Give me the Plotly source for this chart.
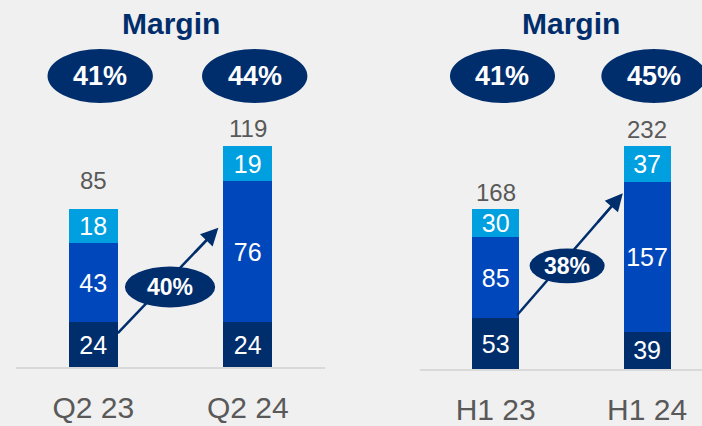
import plotly.graph_objects as go

# ---- data ----
left_categories = ["Q2 23", "Q2 24"]
left_bottom = [24, 24]
left_middle = [43, 76]
left_top = [18, 19]
left_totals = [85, 119]
left_margins = ["41%", "44%"]
left_growth = "40%"

right_categories = ["H1 23", "H1 24"]
right_bottom = [53, 39]
right_middle = [85, 157]
right_top = [30, 37]
right_totals = [168, 232]
right_margins = ["41%", "45%"]
right_growth = "38%"

panel_title = "Margin"

# ---- style ----
NAVY = "#002E6D"
MID = "#0047BB"
LIGHT = "#009FDF"
GRAY = "#595959"
BG = "#F0F0F0"
FONT = "Liberation Sans, Arial, sans-serif"
W, H = 702, 426

fig = go.Figure()

panels = [
    dict(cats=left_categories, b=left_bottom, m=left_middle, t=left_top,
         totals=left_totals, margins=left_margins, growth=left_growth,
         xa="x", ya="y", bw=0.318, total_shift=[13, 2],
         arrow=dict(tail=(0.159, 18.3), head=(0.81, 75.0)),
         gell=dict(cx=0.497, cy=43.1, hw=0.292, hh=11.0),
         mell_hw=0.341),
    dict(cats=right_categories, b=right_bottom, m=right_middle, t=right_top,
         totals=right_totals, margins=right_margins, growth=right_growth,
         xa="x2", ya="y2", bw=0.31, total_shift=[1, 2],
         arrow=dict(tail=(0.142, 56.5), head=(0.84, 184.0)),
         gell=dict(cx=0.472, cy=108.0, hw=0.248, hh=18.3),
         mell_hw=0.347),
]

shapes = []
annotations = []
for p in panels:
    xs = list(range(len(p["cats"])))
    for vals, col in [(p["b"], NAVY), (p["m"], MID), (p["t"], LIGHT)]:
        fig.add_trace(go.Bar(
            x=xs, y=vals, width=p["bw"], marker=dict(color=col, line=dict(width=0)),
            text=[str(v) for v in vals], textposition="inside", textangle=0,
            insidetextanchor="middle", constraintext="none",
            textfont=dict(color="white", size=25, family=FONT),
            xaxis=p["xa"], yaxis=p["ya"], showlegend=False, hoverinfo="skip"))
    for i, tot in enumerate(p["totals"]):
        annotations.append(dict(x=i, y=tot, xref=p["xa"], yref=p["ya"], text=str(tot),
                                showarrow=False, yanchor="bottom", xanchor="center",
                                yshift=p["total_shift"][i],
                                font=dict(color=GRAY, size=24, family=FONT)))
    # title
    annotations.append(dict(x=0.5, y=1 - 23 / H, xref=p["xa"], yref="paper",
                            text="<b>" + panel_title + "</b>", showarrow=False,
                            xanchor="center", yanchor="middle",
                            font=dict(color=NAVY, size=30, family=FONT)))
    # margin ellipses
    for i, mg in enumerate(p["margins"]):
        cx = i + 0.045
        shapes.append(dict(type="circle", xref=p["xa"], yref="paper",
                           x0=cx - p["mell_hw"], x1=cx + p["mell_hw"],
                           y0=1 - 103 / H, y1=1 - 49 / H,
                           fillcolor=NAVY, line=dict(width=0), layer="above"))
        annotations.append(dict(x=cx, y=1 - 76 / H, xref=p["xa"], yref="paper",
                                text="<b>" + mg + "</b>", showarrow=False,
                                xanchor="center", yanchor="middle",
                                font=dict(color="white", size=27, family=FONT)))
    # growth arrow
    (tx, ty), (hx, hy) = p["arrow"]["tail"], p["arrow"]["head"]
    shapes.append(dict(type="line", xref=p["xa"], yref=p["ya"], x0=tx, y0=ty,
                       x1=tx + (hx - tx) * 0.9, y1=ty + (hy - ty) * 0.9,
                       line=dict(color=NAVY, width=2.5), layer="above"))
    g = p["gell"]
    shapes.append(dict(type="circle", xref=p["xa"], yref=p["ya"],
                       x0=g["cx"] - g["hw"], x1=g["cx"] + g["hw"],
                       y0=g["cy"] - g["hh"], y1=g["cy"] + g["hh"],
                       fillcolor=NAVY, line=dict(width=0), layer="above"))
    annotations.append(dict(x=g["cx"], y=g["cy"], xref=p["xa"], yref=p["ya"],
                            text="<b>" + p["growth"] + "</b>", showarrow=False,
                            xanchor="center", yanchor="middle",
                            font=dict(color="white", size=23, family=FONT)))
    ax_ = tx + (hx - tx) * 0.75
    ay_ = ty + (hy - ty) * 0.75
    annotations.append(dict(x=hx, y=hy, ax=ax_, ay=ay_, xref=p["xa"], yref=p["ya"],
                            axref=p["xa"], ayref=p["ya"], text="", showarrow=True,
                            arrowhead=2, arrowsize=1.4, arrowwidth=2.5, arrowcolor=NAVY))

axis_common = dict(showgrid=False, zeroline=False, ticks="", fixedrange=True,
                   automargin=False)
fig.update_layout(
    width=W, height=H, margin=dict(l=0, r=0, t=0, b=0, autoexpand=False),
    paper_bgcolor=BG, plot_bgcolor=BG, barmode="stack", bargap=0,
    font=dict(family=FONT),
    shapes=shapes, annotations=annotations,
    xaxis=dict(domain=[16 / W, 325 / W], range=[-0.5, 1.5], anchor="y",
               tickvals=[0, 1], ticktext=left_categories, showline=True,
               linecolor="#D9D9D9", linewidth=2, ticklabelstandoff=13,
               tickfont=dict(size=30, color=GRAY, family=FONT), **axis_common),
    yaxis=dict(domain=[(H - 367) / H, 1], range=[0, 367 / 1.857], visible=False,
               anchor="x", **axis_common),
    xaxis2=dict(domain=[420 / W, 1], range=[-0.5, (702 - 495.5) / 151.5], anchor="y2",
                tickvals=[0, 1], ticktext=right_categories, showline=True,
                linecolor="#D9D9D9", linewidth=2, ticklabelstandoff=13,
                tickfont=dict(size=30, color=GRAY, family=FONT), **axis_common),
    yaxis2=dict(domain=[(H - 369) / H, 1], range=[0, 369 / 0.955], visible=False,
                anchor="x2", **axis_common),
)

fig.write_html("out.html", config={"displayModeBar": False, "staticPlot": True})
with open("out.html", encoding="utf-8") as f:
    html = f.read()
html = html.replace("<head>", "<head><style>html,body{margin:0;padding:0;overflow:hidden;}</style>", 1)
with open("out.html", "w", encoding="utf-8") as f:
    f.write(html)
